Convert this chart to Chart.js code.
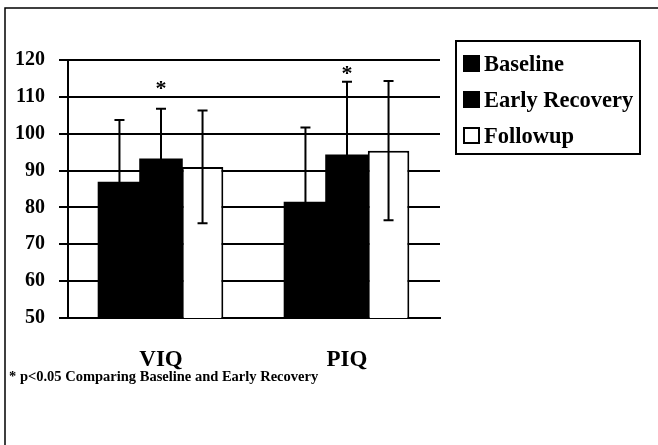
<!DOCTYPE html>
<html>
<head>
<meta charset="utf-8">
<script src="https://cdn.jsdelivr.net/npm/chart.js@4/dist/chart.umd.min.js"></script>
<style>
	body { margin: 0; background: #fff; }
	canvas { display: block; }
</style>
</head>
<body>
<canvas id="iqChart" width="658" height="445"></canvas>
<script>
// values
const categories = ['VIQ', 'PIQ'];
const seriesNames = ['Baseline', 'Early Recovery', 'Followup'];
const baseline = [86.7, 81.3];
const earlyRecovery = [93.0, 94.1];
const followup = [91.0, 95.4];
const baselineErr = [17.0, 20.4];
const earlyErr = [13.8, 20.0];
const followupErr = [15.3, 18.9];
const yMin = 50, yMax = 120, yStep = 10;
// asterisk marks (value level where the * sits, over the Early Recovery bar)
const starLevels = [113.1, 117.3];
const footnote = '* p<0.05 Comparing Baseline and Early Recovery';

const serif = "'Liberation Serif', 'Times New Roman', serif";

const errorBars = {
	id: 'errorBars',
	afterDatasetsDraw(chart) {
		let ctx = chart.ctx;
		let yScale = chart.scales.y;
		ctx.save();
		ctx.strokeStyle = '#000';
		ctx.lineWidth = 2;
		chart.data.datasets.forEach(function (ds, i) {
			let meta = chart.getDatasetMeta(i);
			meta.data.forEach(function (bar, j) {
				let v = ds.data[j], e = ds.errors[j];
				let top = yScale.getPixelForValue(v + e);
				let bot = yScale.getPixelForValue(v - e);
				ctx.beginPath();
				ctx.moveTo(bar.x, top); ctx.lineTo(bar.x, bot);
				ctx.moveTo(bar.x - 5, top); ctx.lineTo(bar.x + 5, top);
				ctx.moveTo(bar.x - 5, bot); ctx.lineTo(bar.x + 5, bot);
				ctx.stroke();
			});
		});
		// significance stars over Early Recovery
		let meta = chart.getDatasetMeta(1);
		ctx.fillStyle = '#000';
		ctx.font = 'bold 22px ' + serif;
		ctx.textAlign = 'center';
		ctx.textBaseline = 'middle';
		meta.data.forEach(function (bar, j) {
			ctx.fillText('*', bar.x, yScale.getPixelForValue(starLevels[j]) + 4);
		});
		ctx.restore();
	}
};

const decorations = {
	id: 'decorations',
	afterDraw(chart) {
		let ctx = chart.ctx;
		ctx.save();
		// page frame
		ctx.strokeStyle = '#000';
		ctx.lineWidth = 1.5;
		ctx.beginPath();
		ctx.moveTo(658, 8); ctx.lineTo(5, 8); ctx.lineTo(5, 445);
		ctx.stroke();

		// legend box
		ctx.lineWidth = 2;
		ctx.strokeRect(456, 41, 184, 113);
		ctx.font = 'bold 22.5px ' + serif;
		ctx.textAlign = 'left';
		ctx.textBaseline = 'middle';
		chart.data.datasets.forEach(function (ds, i) {
			let cy = 64 + i * 36;
			ctx.fillStyle = ds.backgroundColor;
			ctx.fillRect(463, cy - 9, 17, 17);
			if (ds.borderWidth) {
				ctx.lineWidth = 2;
				ctx.strokeRect(464, cy - 8, 15, 15);
			}
			ctx.fillStyle = '#000';
			ctx.fillText(ds.label, 484, cy + 1);
		});

		// footnote
		ctx.font = 'bold 14.5px ' + serif;
		ctx.textBaseline = 'alphabetic';
		ctx.fillText(footnote, 9, 381);
		ctx.restore();
	}
};

new Chart(document.getElementById('iqChart'), {
	type: 'bar',
	data: {
		labels: categories,
		datasets: [
			{ label: seriesNames[0], data: baseline, errors: baselineErr, backgroundColor: '#000', borderWidth: 0, inflateAmount: 1 },
			{ label: seriesNames[1], data: earlyRecovery, errors: earlyErr, backgroundColor: '#000', borderWidth: 0, inflateAmount: 1 },
			{ label: seriesNames[2], data: followup, errors: followupErr, backgroundColor: '#fff', borderColor: '#000', borderWidth: 2 }
		]
	},
	options: {
		responsive: false,
		animation: false,
		categoryPercentage: 0.67,
		barPercentage: 1.0,
		layout: { padding: { top: 60, right: 218, left: 0, bottom: 0 } },
		plugins: {
			legend: { display: false },
			tooltip: { enabled: false }
		},
		scales: {
			x: {
				grid: { display: false, drawTicks: false },
				border: { display: true, color: '#000', width: 2 },
				ticks: { color: '#000', padding: 28, font: { family: serif, size: 23, weight: 'bold' } },
				afterFit: function (scale) { scale.height = 127; }
			},
			y: {
				min: yMin,
				max: yMax,
				ticks: { stepSize: yStep, color: '#000', padding: 14, font: { family: serif, size: 20, weight: 'bold' } },
				grid: { color: '#000', lineWidth: 2, tickLength: 9, drawTicks: true },
				border: { display: true, color: '#000', width: 2 },
				afterFit: function (scale) { scale.width = 68; }
			}
		}
	},
	plugins: [errorBars, decorations]
});
</script>
</body>
</html>
